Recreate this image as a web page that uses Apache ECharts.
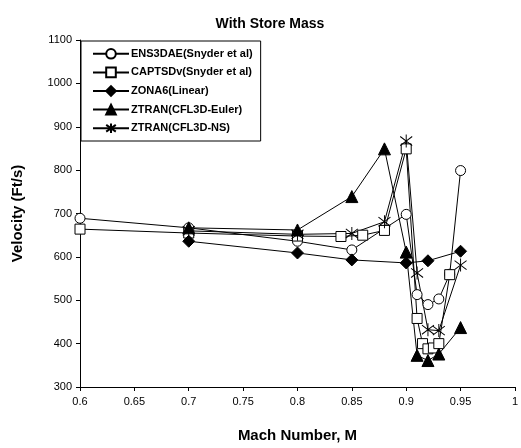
<!DOCTYPE html>
<html>
<head>
<meta charset="utf-8">
<script src="https://cdn.jsdelivr.net/npm/echarts@6/dist/echarts.min.js"></script>
<style>
  html, body { margin: 0; padding: 0; background: #fff; }
  #chart { width: 521px; height: 448px; }
</style>
</head>
<body>
<div id="chart"></div>
<script>
// Velocity vs Mach number, with store mass
const seriesNames = [
  'ENS3DAE(Snyder et al)',
  'CAPTSDv(Snyder et al)',
  'ZONA6(Linear)',
  'ZTRAN(CFL3D-Euler)',
  'ZTRAN(CFL3D-NS)'
];

const ens3daeMach = [0.6, 0.7, 0.8, 0.85, 0.9, 0.91, 0.92, 0.93, 0.94, 0.95];
const ens3daeVel  = [689, 667, 636, 616, 698, 513, 490, 503, 560, 799];

const captsdvMach = [0.6, 0.7, 0.8, 0.84, 0.86, 0.88, 0.9, 0.91, 0.915, 0.92, 0.925, 0.93, 0.94];
const captsdvVel  = [664, 655, 648, 647, 650, 661, 849, 458, 400, 388, 390, 400, 559];

const zona6Mach = [0.7, 0.8, 0.85, 0.9, 0.92, 0.95];
const zona6Vel  = [636, 609, 593, 586, 591, 613];

const eulerMach = [0.7, 0.8, 0.85, 0.88, 0.9, 0.91, 0.92, 0.93, 0.95];
const eulerVel  = [667, 662, 739, 849, 611, 373, 361, 376, 437];

const nsMach = [0.7, 0.8, 0.85, 0.88, 0.9, 0.91, 0.92, 0.93, 0.95];
const nsVel  = [660, 652, 654, 681, 867, 563, 432, 430, 581];

const pairs = (xs, ys) => xs.map((x, i) => [x, ys[i]]);

// star marker: X plus a vertical bar, stroke only
const asterisk = 'path://M0,-10L0,10M-8,-7L8,7M-8,7L8,-7';

const fontFamily = '"Liberation Sans", Arial, sans-serif';

function makeSeries(name, data, symbol, size, filled) {
  return {
    name: name,
    type: 'line',
    data: data,
    symbol: symbol,
    symbolSize: size,
    showAllSymbol: true,
    lineStyle: { color: '#000', width: 1 },
    itemStyle: {
      color: filled ? '#000' : '#fff',
      borderColor: '#000',
      borderWidth: 1
    },
    emphasis: { disabled: true },
    animation: false,
    z: 2
  };
}

const seriesList = [
  makeSeries(seriesNames[0], pairs(ens3daeMach, ens3daeVel), 'circle', 10, false),
  makeSeries(seriesNames[1], pairs(captsdvMach, captsdvVel), 'rect', 10, false),
  makeSeries(seriesNames[2], pairs(zona6Mach, zona6Vel), 'diamond', 12, true),
  makeSeries(seriesNames[3], pairs(eulerMach, eulerVel), 'triangle', 12, true),
  makeSeries(seriesNames[4], pairs(nsMach, nsVel), asterisk, [12, 13], false)
];
seriesList[4].itemStyle.color = 'rgba(0,0,0,0)';

const chart = echarts.init(document.getElementById('chart'), null, { renderer: 'canvas' });
chart.setOption({
  backgroundColor: '#fff',
  animation: false,
  title: {
    text: 'With Store Mass',
    left: 265,
    textAlign: 'center',
    top: 12,
    textStyle: { fontFamily: fontFamily, fontSize: 14, fontWeight: 'bold', color: '#000' }
  },
  legend: {
    orient: 'vertical',
    left: 81,
    top: 41,
    padding: [7, 8, 7, 11],
    itemGap: 7,
    itemWidth: 36,
    itemHeight: 12,
    backgroundColor: '#fff',
    borderColor: '#000',
    borderWidth: 1,
    borderRadius: 0,
    data: seriesNames,
    textStyle: { fontFamily: fontFamily, fontSize: 11, fontWeight: 'bold', color: '#000', padding: [0, 0, 0, -3] },
    z: 10
  },
  grid: { left: 80, top: 40, right: 1, bottom: 58, containLabel: false },
  xAxis: {
    type: 'value',
    min: 0.6,
    max: 1,
    interval: 0.05,
    name: 'Mach Number, M',
    nameLocation: 'middle',
    nameGap: 41,
    nameTextStyle: { fontFamily: fontFamily, fontSize: 15, fontWeight: 'bold', color: '#000' },
    axisLine: { onZero: false, lineStyle: { color: '#000', width: 1 } },
    axisTick: { show: true, inside: false, length: 4, lineStyle: { color: '#000' } },
    axisLabel: {
      fontFamily: fontFamily, fontSize: 11, color: '#000', margin: 9,
      formatter: v => String(parseFloat(v.toFixed(2)))
    },
    splitLine: { show: false }
  },
  yAxis: {
    type: 'value',
    min: 300,
    max: 1100,
    interval: 100,
    name: 'Velocity (Ft/s)',
    nameLocation: 'middle',
    nameGap: 55,
    nameTextStyle: { fontFamily: fontFamily, fontSize: 15, fontWeight: 'bold', color: '#000' },
    axisLine: { show: true, lineStyle: { color: '#000', width: 1 } },
    axisTick: { show: true, inside: false, length: 4, lineStyle: { color: '#000' } },
    axisLabel: {
      fontFamily: fontFamily, fontSize: 11, color: '#000', margin: 8,
      formatter: v => String(v)
    },
    splitLine: { show: false }
  },
  series: seriesList
});
</script>
</body>
</html>
